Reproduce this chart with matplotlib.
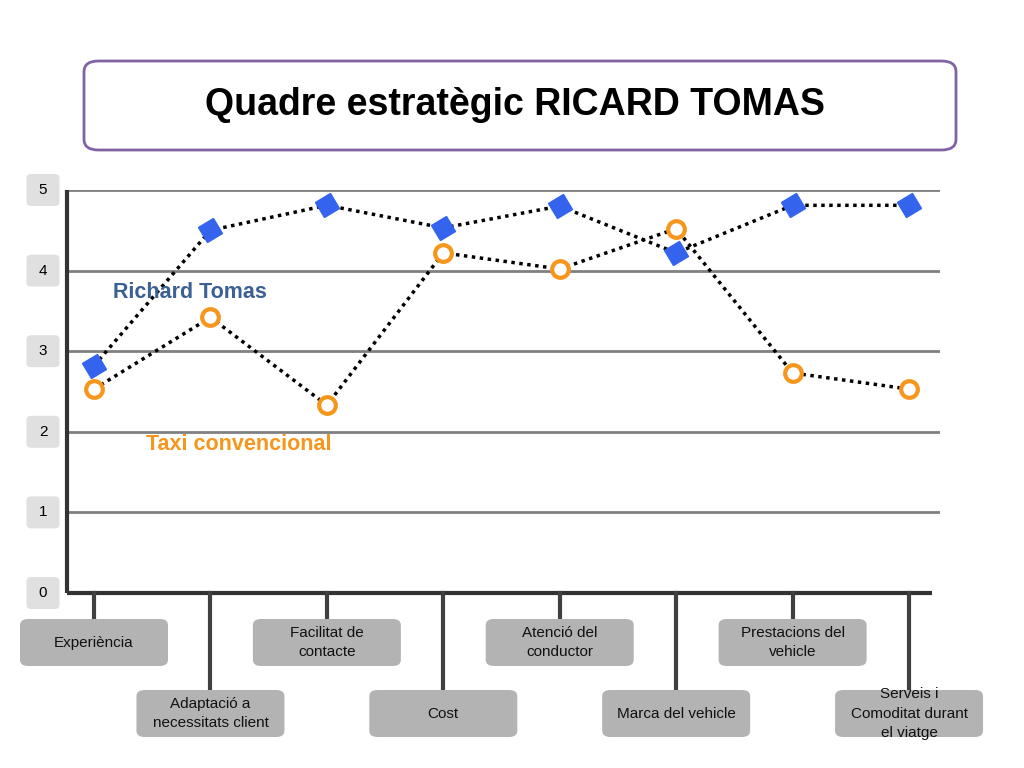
import matplotlib

# Only write the file, no window.
matplotlib.use("Agg")

import matplotlib.pyplot as plt
from matplotlib.markers import MarkerStyle
from matplotlib.patches import FancyBboxPatch
from matplotlib.transforms import Affine2D

plt.rcParams["font.family"] = ["Liberation Sans", "DejaVu Sans"]

TITLE = "Quadre estratègic RICARD TOMAS"
CATEGORIES = [
    "Experiència",
    "Adaptació a\nnecessitats client",
    "Facilitat de\ncontacte",
    "Cost",
    "Atenció del\nconductor",
    "Marca del vehicle",
    "Prestacions del\nvehicle",
    "Serveis i\nComoditat durant\nel viatge",
]
RICHARD_TOMAS = [2.82, 4.5, 4.81, 4.53, 4.8, 4.22, 4.81, 4.81]
TAXI_CONVENCIONAL = [2.53, 3.42, 2.33, 4.22, 4.02, 4.52, 2.73, 2.53]
Y_TICKS = [0, 1, 2, 3, 4, 5]

BLUE = "#3464ee"
ORANGE = "#f7961c"
LABEL_BLUE = "#3a6094"
BOX_GREY = "#b3b3b3"
TICK_GREY = "#e0e0e0"
DARK = "#333333"

W, H = 1024, 768

fig = plt.figure(figsize=(10.24, 7.68), dpi=100)
fig.patch.set_facecolor("white")

# Title box
fig.patches.append(
    FancyBboxPatch(
        (84 / W, 1 - 150 / H), 872 / W, 89 / H,
        boxstyle="round,pad=0,rounding_size=0.014",
        transform=fig.transFigure, facecolor="white",
        edgecolor="#8064a2", linewidth=2,
    )
)
fig.text(515 / W, 1 - 105 / H, TITLE, ha="center", va="center",
         fontsize=27, fontweight="bold", color="black")

ax = fig.add_axes([67 / W, 1 - 593 / H, 873 / W, 403 / H])
ax.set_xlim(-0.232, 7.266)
ax.set_ylim(0, 5)
ax.axis("off")

x = list(range(len(CATEGORIES)))
to_fig = ax.transData + fig.transFigure.inverted()

for value in Y_TICKS[1:]:
    ax.axhline(value, color="#808080", linewidth=2, zorder=1)

ax.plot([-0.232, -0.232], [0, 5], color=DARK, linewidth=3, zorder=2,
        solid_capstyle="butt", clip_on=False)
ax.plot([-0.232, 7.2], [0, 0], color=DARK, linewidth=3, zorder=2,
        solid_capstyle="butt", clip_on=False)

# Y tick labels in small grey boxes
tick_w = 33 / W
tick_h = 32 / H
for value in Y_TICKS:
    fy = to_fig.transform((0, value))[1]
    fig.patches.append(
        FancyBboxPatch(
            (43 / W - tick_w / 2, fy - tick_h / 2), tick_w, tick_h,
            boxstyle="round,pad=0,rounding_size=0.005",
            transform=fig.transFigure, facecolor=TICK_GREY,
            edgecolor="none",
        )
    )
    fig.text(43 / W, fy, str(value), ha="center", va="center",
             fontsize=11, color="black")

tilted_square = MarkerStyle("s", transform=Affine2D().rotate_deg(30))

ax.plot(x, RICHARD_TOMAS, color="black", linewidth=2.5,
        linestyle=(0, (1, 1.3)), zorder=3, clip_on=False)
ax.plot(x, TAXI_CONVENCIONAL, color="black", linewidth=2.5,
        linestyle=(0, (1, 1.3)), zorder=3, clip_on=False)
ax.plot(x, RICHARD_TOMAS, linestyle="none", marker=tilted_square,
        markersize=12.5, markerfacecolor=BLUE, markeredgecolor=BLUE,
        zorder=4, clip_on=False)
ax.plot(x, TAXI_CONVENCIONAL, linestyle="none", marker="o",
        markersize=12, markerfacecolor="white", markeredgecolor=ORANGE,
        markeredgewidth=3, zorder=4, clip_on=False)

ax.text(0.163, 3.73, "Richard Tomas", color=LABEL_BLUE, fontsize=15.5,
        fontweight="bold", ha="left", va="center")
ax.text(0.447, 1.84, "Taxi convencional", color=ORANGE, fontsize=15.5,
        fontweight="bold", ha="left", va="center")

# Category labels, alternating between two rows below the axis
box_w = 148 / W
box_h = 47 / H
row_top = [1 - 619 / H, 1 - 690 / H]
axis_y = 1 - 593 / H
for i, label in enumerate(CATEGORIES):
    cx = to_fig.transform((x[i], 0))[0]
    top = row_top[i % 2]
    fig.add_artist(plt.Line2D([cx, cx], [axis_y, top], color="#404040",
                              linewidth=3, transform=fig.transFigure,
                              zorder=1))
    fig.patches.append(
        FancyBboxPatch(
            (cx - box_w / 2, top - box_h), box_w, box_h,
            boxstyle="round,pad=0,rounding_size=0.008",
            transform=fig.transFigure, facecolor=BOX_GREY,
            edgecolor="none", zorder=2,
        )
    )
    fig.text(cx, top - box_h / 2, label, ha="center", va="center",
             fontsize=11, color="#111111", linespacing=1.5, zorder=3)

fig.savefig("out.png", dpi=100)
plt.close(fig)
